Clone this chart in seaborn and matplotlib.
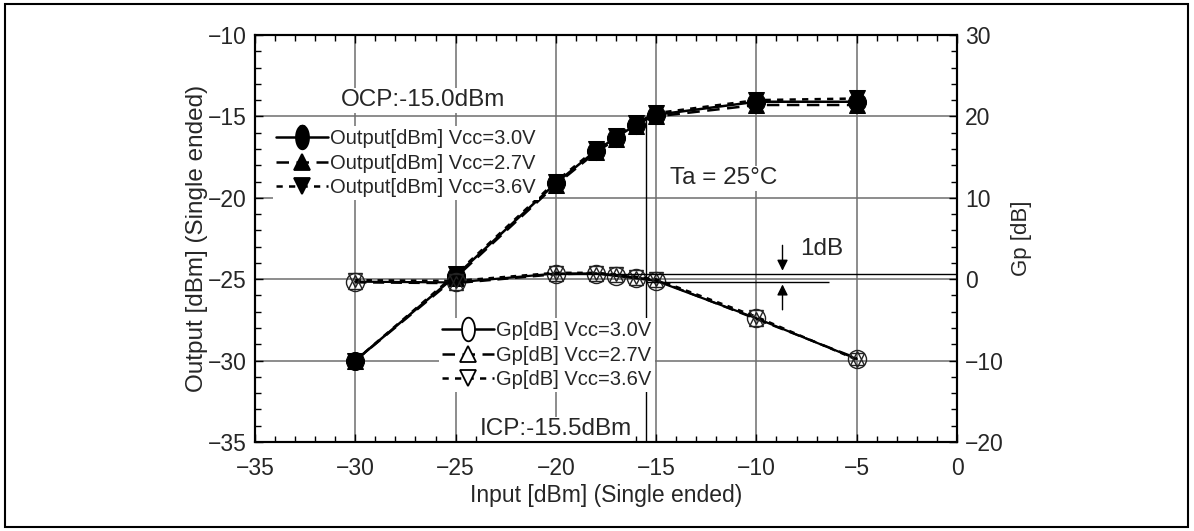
import numpy as np
import pandas as pd
import matplotlib
matplotlib.use("Agg")
import matplotlib.pyplot as plt
import seaborn as sns
from matplotlib.lines import Line2D
from matplotlib.patches import Rectangle
from matplotlib.path import Path
from matplotlib.ticker import MultipleLocator

sns.set_theme(style="white")
plt.rcParams['font.family'] = ['Liberation Sans', 'DejaVu Sans']

# ---- data ----
inp = [-30, -25, -20, -18, -17, -16, -15, -10, -5]
out30 = [-30.0, -24.8, -19.1, -17.1, -16.3, -15.5, -14.9, -14.1, -14.1]
out27 = [-30.0, -24.9, -19.2, -17.2, -16.4, -15.6, -15.0, -14.3, -14.3]
out36 = [-30.0, -24.7, -19.0, -17.0, -16.2, -15.4, -14.8, -14.0, -13.9]
gp30 = [-0.3, -0.4, 0.7, 0.7, 0.4, 0.1, -0.2, -4.8, -9.8]
gp27 = [-0.4, -0.5, 0.6, 0.7, 0.5, 0.2, -0.1, -4.9, -9.7]
gp36 = [-0.1, -0.2, 0.8, 0.8, 0.6, 0.3, 0.0, -4.6, -9.9]
out_labels = ["Output[dBm] Vcc=3.0V", "Output[dBm] Vcc=2.7V", "Output[dBm] Vcc=3.6V"]
gp_labels = ["Gp[dB] Vcc=3.0V", "Gp[dB] Vcc=2.7V", "Gp[dB] Vcc=3.6V"]
icp = -15.5
gp_max = 0.7
gp_1db = -0.3

fig = plt.figure(figsize=(11.94, 5.31), dpi=100)
ax = fig.add_axes([255/1194, 1-442/531, (957-255)/1194, (442-35)/531])
ax2 = ax.twinx()

ell = np.linspace(0, 2*np.pi, 40)
ellipse_marker = Path(np.column_stack([0.55*np.cos(ell), np.sin(ell)]))

styles = [("-", "o"), ((0, (5, 3)), "^"), ((0, (2.5, 2.5)), "v")]
df = pd.DataFrame({"inp": inp, "o30": out30, "o27": out27, "o36": out36,
                   "g30": gp30, "g27": gp27, "g36": gp36})

for col, (ls, mk) in zip(["o30", "o27", "o36"], styles):
    sns.lineplot(data=df, x="inp", y=col, ax=ax, color="black", linestyle=ls,
                 linewidth=1.8, marker=mk, markersize=13 if mk == "o" else 12,
                 markerfacecolor="black", markeredgecolor="black", legend=False)
for col, (ls, mk) in zip(["g30", "g27", "g36"], styles):
    sns.lineplot(data=df, x="inp", y=col, ax=ax2, color="black", linestyle=ls,
                 linewidth=1.6, marker=mk, markersize=13 if mk == "o" else 10,
                 markerfacecolor="none", markeredgecolor="#222222",
                 markeredgewidth=1.0, legend=False)

ax.set_xlim(-35, 0)
ax.set_ylim(-35, -10)
ax2.set_ylim(-20, 30)
ax.xaxis.set_major_locator(MultipleLocator(5))
ax.xaxis.set_minor_locator(MultipleLocator(1))
ax.yaxis.set_major_locator(MultipleLocator(5))
ax.yaxis.set_minor_locator(MultipleLocator(1))
ax2.yaxis.set_major_locator(MultipleLocator(10))
ax2.yaxis.set_minor_locator(MultipleLocator(2))
ax.grid(True, which="major", color="#6e6e6e", linewidth=1.1)
ax.set_axisbelow(True)
ax.tick_params(which="both", direction="in", top=True, bottom=True, left=True, right=False,
               labelsize=16.5, color="black")
ax.tick_params(axis="x", which="both", pad=11)
ax.tick_params(axis="y", which="both", pad=6)
ax.tick_params(which="major", length=6, width=1)
ax.tick_params(which="minor", length=4, width=1)
ax2.tick_params(which="both", direction="in", right=True, labelsize=16.5, color="black", pad=6)
ax2.tick_params(which="major", length=6, width=1)
ax2.tick_params(which="minor", length=4, width=1)
for a in (ax, ax2):
    for s in a.spines.values():
        s.set_color("black")
        s.set_linewidth(1.5)

ax.set_xlabel("Input [dBm] (Single ended)", fontsize=16.5, labelpad=3)
ax.set_ylabel("Output [dBm] (Single ended)", fontsize=17.5, labelpad=0)
ax2.set_ylabel("Gp [dB]", fontsize=16, labelpad=5, rotation=90)

# annotations
ax.axvline(icp, ymin=0, ymax=(-15.1 + 35) / 25, color="black", linewidth=1.0)
ax2.hlines(gp_max, -20, 0, color="black", linewidth=1.0)
ax2.hlines(gp_1db, -15.5, -6.4, color="black", linewidth=1.0)
ax2.annotate("", xy=(-8.7, gp_max), xytext=(-8.7, gp_max + 3.8),
             arrowprops=dict(arrowstyle="-|>", color="black", lw=1.0, mutation_scale=16))
ax2.annotate("", xy=(-8.7, gp_1db), xytext=(-8.7, gp_1db - 3.8),
             arrowprops=dict(arrowstyle="-|>", color="black", lw=1.0, mutation_scale=16))
ax2.text(-7.8, 3.7, "1dB", fontsize=17.5, va="center", ha="left")
white = dict(facecolor="white", edgecolor="none", pad=1.0)
ax.text(-26.6, -14.0, "OCP:-15.0dBm", fontsize=17.5, ha="center", va="center", bbox=white)
ax.text(-20.0, -34.2, "ICP:-15.5dBm", fontsize=17.5, ha="center", va="center", bbox=white)
ax.text(-14.3, -18.8, "Ta = 25°C", fontsize=17.5, ha="left", va="center", bbox=white)

# legends
def handles(mkset, filled):
    hs = []
    for (ls, mk), m in zip(styles, mkset):
        hs.append(Line2D([0], [0], color="black", linestyle=ls, linewidth=1.8, marker=m,
                         markersize=17 if m is ellipse_marker else 11,
                         markerfacecolor="black" if filled else "white",
                         markeredgecolor="black", markeredgewidth=1.3))
    return hs

leg_kw = dict(loc="upper left", bbox_transform=fig.transFigure, frameon=True,
              facecolor="white", edgecolor="none", framealpha=1.0, fancybox=False,
              fontsize=14.5, handlelength=2.6, handletextpad=0.1, labelspacing=0.28,
              borderpad=0.15, borderaxespad=0)
leg1 = ax.legend(handles([ellipse_marker, "^", "v"], True), out_labels,
                 bbox_to_anchor=(273/1194, 1-126/531), **leg_kw)
ax.add_artist(leg1)
leg2 = ax2.legend(handles([ellipse_marker, "^", "v"], False), gp_labels,
                  bbox_to_anchor=(439/1194, 1-318/531), **leg_kw)

fig.patches.append(Rectangle((5/1194, 4/531), 1183/1194, 523/531, transform=fig.transFigure,
                             fill=False, edgecolor="black", linewidth=1.5))

fig.savefig("out.png", dpi=100)
